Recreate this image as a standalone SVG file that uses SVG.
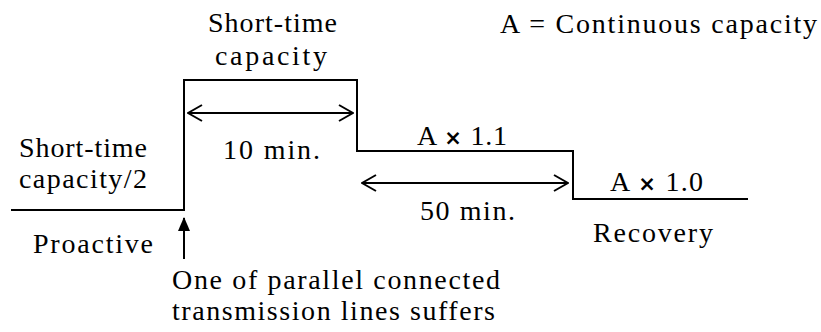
<svg xmlns="http://www.w3.org/2000/svg" width="821" height="332" viewBox="0 0 821 332">
<style>
.t{font-size:28px;fill:#000}
.ln{fill:none;stroke:#000;stroke-width:2}
.x{font-weight:bold;font-size:21px}
</style>
<defs>
<marker id="open" viewBox="0 0 16 18" refX="15" refY="9" markerWidth="16" markerHeight="18" markerUnits="userSpaceOnUse" orient="auto-start-reverse">
<path d="M1,1 L15,9 L1,17" fill="none" stroke="#000" stroke-width="2"/>
</marker>
<marker id="solid" viewBox="0 0 14 14" refX="13" refY="7" markerWidth="14" markerHeight="14" markerUnits="userSpaceOnUse" orient="auto">
<path d="M0,1 L14,7 L0,13 Z" fill="#000"/>
</marker>
</defs>
<g id="profile">
<polyline class="ln" points="11,210 184,210 184,80 357,80 357,151 573,151 573,199 748,199"/>
</g>
<g id="connectors">
<line class="ln" x1="188" y1="113" x2="353" y2="113" marker-start="url(#open)" marker-end="url(#open)"/>
<line class="ln" x1="362" y1="183" x2="568" y2="183" marker-start="url(#open)" marker-end="url(#open)"/>
<line class="ln" x1="184" y1="259" x2="184" y2="218" marker-end="url(#solid)"/>
</g>
<g id="labels">
<text class="t" font-family="Liberation Serif, serif" x="208" y="32" textLength="129" lengthAdjust="spacing">Short-time</text>
<text class="t" font-family="Liberation Serif, serif" x="215" y="65" textLength="112" lengthAdjust="spacing">capacity</text>
<text class="t" font-family="Liberation Serif, serif" x="500" y="33" textLength="317" lengthAdjust="spacing">A = Continuous capacity</text>
<text class="t" font-family="Liberation Serif, serif" x="223" y="159" textLength="97" lengthAdjust="spacing">10 min.</text>
<text class="t" font-family="Liberation Serif, serif" x="19" y="157" textLength="128" lengthAdjust="spacing">Short-time</text>
<text class="t" font-family="Liberation Serif, serif" x="19" y="188" textLength="128" lengthAdjust="spacing">capacity/2</text>
<text class="t" font-family="Liberation Serif, serif" x="417" y="145" textLength="90" lengthAdjust="spacing">A <tspan class="x" font-family="DejaVu Sans, sans-serif">×</tspan> 1.1</text>
<text class="t" font-family="Liberation Serif, serif" x="420" y="220" textLength="95" lengthAdjust="spacing">50 min.</text>
<text class="t" font-family="Liberation Serif, serif" x="610" y="191" textLength="93" lengthAdjust="spacing">A <tspan class="x" font-family="DejaVu Sans, sans-serif">×</tspan> 1.0</text>
<text class="t" font-family="Liberation Serif, serif" x="593" y="242" textLength="120" lengthAdjust="spacing">Recovery</text>
<text class="t" font-family="Liberation Serif, serif" x="33" y="253" textLength="120" lengthAdjust="spacing">Proactive</text>
<text class="t" font-family="Liberation Serif, serif" x="172" y="289" textLength="328" lengthAdjust="spacing">One of parallel connected</text>
<text class="t" font-family="Liberation Serif, serif" x="172" y="320" textLength="323" lengthAdjust="spacing">transmission lines suffers</text>
</g>
</svg>
